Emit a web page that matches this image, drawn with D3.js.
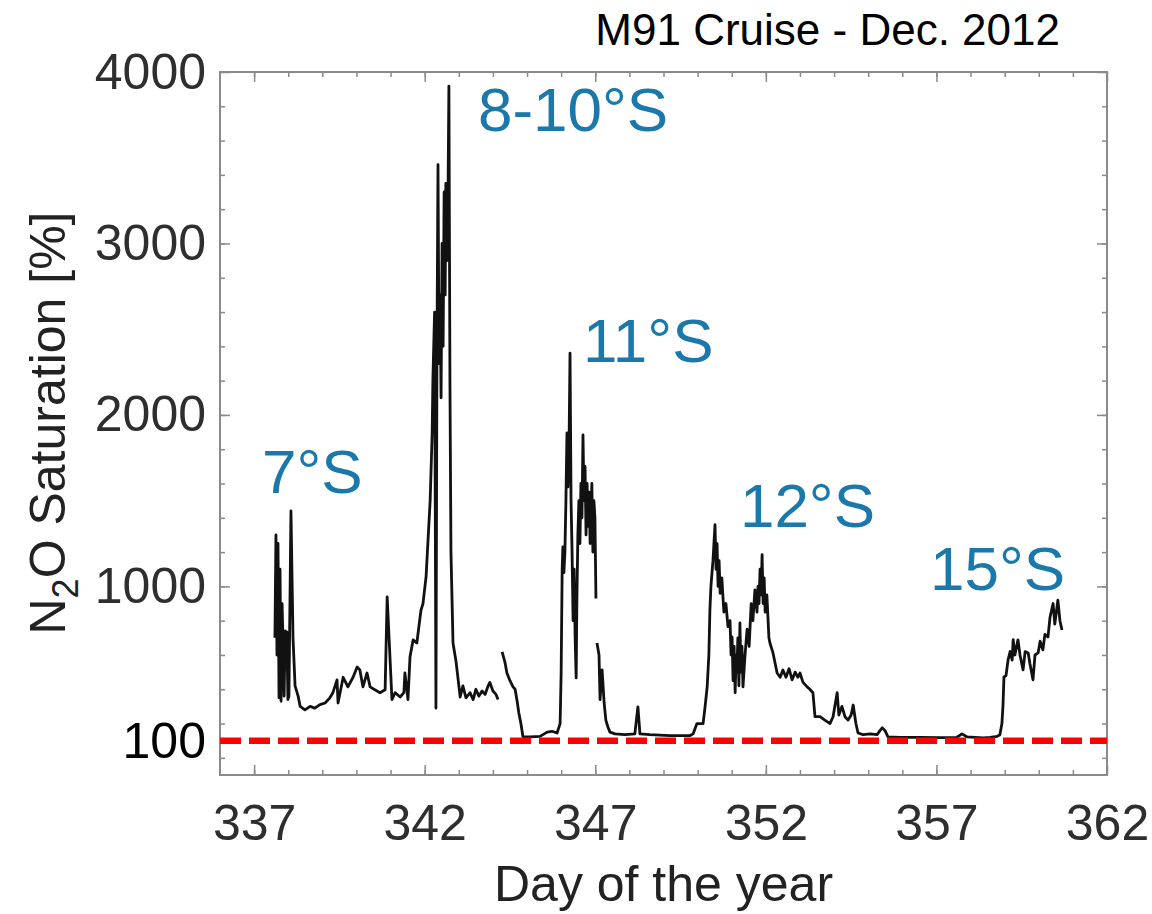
<!DOCTYPE html>
<html>
<head>
<meta charset="utf-8">
<script src="https://cdn.jsdelivr.net/npm/d3@7"></script>
<style>
  body { margin: 0; background: #fff; }
  text { font-family: 'Liberation Sans', Arial, Helvetica, sans-serif; }
</style>
</head>
<body>
<svg width="1152" height="914"></svg>
<script>
// N2O saturation along the M91 cruise (null = gap in record)
var days = [
	337.61, 337.64, 337.67, 337.70, 337.73, 337.76, 337.79, 337.82, 337.88, 337.91, 337.93, 337.96, 337.99, 338.02,
	338.08, 338.14, 338.20, 338.29, 338.35, 338.49, 338.64, 338.78, 338.93, 339.08, 339.22, 339.31, 339.43, 339.46,
	339.61, 339.75, 339.90, 340.02, 340.10, 340.19, 340.31, 340.40, 340.54, 340.69, 340.84, 340.90, 341.04, 341.13,
	341.28, 341.39, 341.42, 341.51, 341.57, 341.66, 341.77, 341.83, 341.89, 341.95, 342.04, 342.16, 342.22, 342.24,
	342.29, 342.33, 342.36, 342.39, 342.42, 342.45, 342.48, 342.51, 342.54, 342.57, 342.60, 342.62, 342.65, 342.68,
	342.71, 342.74, 342.77, 342.83, 342.92, 343.04, 343.12, 343.21, 343.33, 343.42, 343.50, 343.59, 343.68, 343.77,
	343.86, 343.91, 344.00, 344.09, 344.15, 344.21,
	344.27, 344.35, 344.41, 344.50, 344.59, 344.65, 344.71, 344.76, 344.82, 344.88, 345.09, 345.38, 345.59, 345.73,
	345.88, 345.97, 346.00, 346.03, 346.05, 346.08, 346.11, 346.14, 346.17, 346.20, 346.23, 346.26, 346.29, 346.32,
	346.35, 346.38, 346.41, 346.44, 346.46, 346.49, 346.52, 346.55, 346.58, 346.61, 346.64, 346.67, 346.70, 346.73,
	346.76, 346.79, 346.82, 346.85, 346.88, 346.90, 346.93, 346.96, 346.99, 347.02, 347.03,
	347.05, 347.11, 347.14, 347.20, 347.26, 347.31, 347.37, 347.43, 347.58, 347.87, 348.16, 348.25, 348.31, 348.60,
	349.19, 349.78, 349.87, 349.98, 350.16, 350.22, 350.28, 350.33, 350.36, 350.39, 350.45, 350.51, 350.54, 350.57,
	350.60, 350.63, 350.66, 350.71, 350.77, 350.83, 350.89, 350.95, 350.98, 351.01, 351.04, 351.07, 351.10, 351.13,
	351.15, 351.18, 351.21, 351.24, 351.27, 351.30, 351.33, 351.39, 351.45, 351.51, 351.57, 351.62, 351.68, 351.74,
	351.77, 351.80, 351.83, 351.86, 351.89, 351.92, 351.95, 351.98, 352.03, 352.09, 352.12, 352.21, 352.33, 352.42,
	352.50, 352.59, 352.68, 352.77, 352.86, 352.94, 353.00, 353.09, 353.21, 353.29, 353.38, 353.44, 353.59, 353.73,
	353.88, 353.97, 354.09, 354.14, 354.23, 354.32, 354.41, 354.50, 354.56, 354.64, 354.70, 354.85, 355.06, 355.26,
	355.35, 355.41, 355.49, 355.58, 355.93, 356.52, 357.11, 357.60, 357.75, 357.90, 358.37, 358.57, 358.78, 358.86,
	358.92, 358.95, 358.98, 359.04, 359.10, 359.16, 359.22, 359.25, 359.30, 359.39, 359.45, 359.54, 359.60, 359.69,
	359.74, 359.83, 359.89, 359.98, 360.04, 360.12, 360.18, 360.27, 360.33, 360.42, 360.47, 360.56, 360.62, 360.68
];
var saturation = [
	700, 1300, 600, 1250, 350, 1100, 330, 900, 360, 740, 620, 735, 340, 360,
	1440, 700, 420, 360, 300, 280, 300, 290, 310, 320, 350, 380, 455, 320,
	470, 414, 470, 530, 513, 414, 495, 414, 397, 380, 397, 939, 340, 380,
	355, 380, 495, 340, 590, 688, 670, 765, 860, 900, 1055, 1500, 1900, 2200,
	2600, 290, 2400, 3460, 2300, 2700, 2100, 3000, 2400, 3300, 2700, 3350, 2900, 3200,
	3918, 2200, 1200, 670, 560, 355, 420, 350, 380, 340, 400, 360, 390, 370,
	420, 440, 390, 370, 340, null,
	618, 560, 495, 450, 414, 400, 330, 262, 200, 123, 122, 125, 150, 155,
	145, 200, 500, 1100, 1230, 1080, 1200, 1500, 1895, 1580, 1800, 2361, 1500, 1200,
	800, 1100, 700, 466, 900, 1300, 1500, 1250, 1600, 1400, 1883, 1500, 1700, 1300,
	1600, 1350, 1550, 1250, 1450, 1600, 1200, 1500, 1400, 930, null,
	670, 600, 340, 513, 320, 220, 180, 150, 140, 135, 140, 297, 140, 135,
	130, 130, 140, 200, 200, 300, 414, 600, 860, 1000, 1150, 1360, 1100, 1250,
	1000, 1150, 960, 1050, 850, 900, 765, 800, 600, 705, 450, 650, 380, 600,
	500, 700, 420, 787, 500, 650, 414, 600, 750, 650, 900, 800, 980, 850,
	1000, 900, 1100, 950, 1185, 900, 1050, 850, 950, 700, 670, 612, 495, 470,
	512, 470, 520, 455, 500, 470, 495, 440, 414, 400, 380, 240, 240, 220,
	200, 240, 380, 250, 300, 240, 220, 250, 308, 200, 146, 135, 140, 135,
	160, 175, 160, 122, 120, 120, 118, 120, 140, 122, 117, 120, 125, 135,
	200, 300, 472, 480, 571, 620, 570, 690, 600, 688, 600, 513, 620, 612,
	550, 455, 600, 612, 680, 630, 720, 705, 820, 900, 780, 920, 800, 746
];

var yLabels = [1000, 2000, 3000, 4000];
var xLabels = [337, 342, 347, 352, 357, 362];
var refLevel = 100;

var regions = ['7°S', '8-10°S', '11°S', '12°S', '15°S'];
var regionDay = [337.23, 343.56, 346.64, 351.24, 356.81];
var regionSat = [1545, 3655, 2308, 1346, 979];

function main() {
	var svg = d3.select('svg');
	var left = 220, right = 1107, top = 72, bottom = 775;
	var font = "'Liberation Sans', Arial, Helvetica, sans-serif";
	var axisGrey = '#8a8a8a';

	var x = d3.scaleLinear().domain([336, 362]).range([left, right]);
	var y = d3.scaleLinear().domain([-100, 4000]).range([bottom, top]);

	svg.append('rect').attr('width', 1152).attr('height', 914).attr('fill', '#fff');

	// ticks point inward on all four sides
	function ticks(axis, transform) {
		var g = svg.append('g').attr('transform', transform).call(axis);
		g.select('.domain').remove();
		g.selectAll('line').attr('stroke', axisGrey).attr('stroke-width', 1.5);
		return g;
	}
	var xMinor = d3.range(337, 362, 1), yMinor = d3.range(0, 4000, 200);
	ticks(d3.axisBottom(x).tickValues(xMinor).tickSize(-5).tickFormat(''), 'translate(0,' + bottom + ')');
	ticks(d3.axisTop(x).tickValues(xMinor).tickSize(-5).tickFormat(''), 'translate(0,' + top + ')');
	ticks(d3.axisLeft(y).tickValues(yMinor).tickSize(-5).tickFormat(''), 'translate(' + left + ',0)');
	ticks(d3.axisRight(y).tickValues(yMinor).tickSize(-5).tickFormat(''), 'translate(' + right + ',0)');
	ticks(d3.axisTop(x).tickValues(xLabels).tickSize(-10).tickFormat(''), 'translate(0,' + top + ')');
	ticks(d3.axisRight(y).tickValues(yLabels).tickSize(-10).tickFormat(''), 'translate(' + right + ',0)');

	ticks(d3.axisBottom(x).tickValues(xLabels).tickSize(-10).tickPadding(29).tickFormat(d3.format('d')),
		'translate(0,' + bottom + ')');
	ticks(d3.axisLeft(y).tickValues(yLabels).tickSize(-10).tickPadding(14).tickFormat(d3.format('d')),
		'translate(' + left + ',0)');
	svg.selectAll('.tick text')
		.attr('font-family', font)
		.attr('font-size', 50)
		.attr('fill', '#2e2e2e');

	svg.append('rect')
		.attr('x', left).attr('y', top)
		.attr('width', right - left).attr('height', bottom - top)
		.attr('fill', 'none')
		.attr('stroke', axisGrey)
		.attr('stroke-width', 2);

	var line = d3.line()
		.defined(function(d, i) { return saturation[i] != null; })
		.x(function(d, i) { return x(days[i]); })
		.y(function(d, i) { return y(saturation[i]); });

	svg.append('path')
		.attr('d', line(days))
		.attr('fill', 'none')
		.attr('stroke', '#111')
		.attr('stroke-width', 2.8)
		.attr('stroke-linejoin', 'round');

	// 100 % saturation reference
	svg.append('line')
		.attr('x1', left).attr('x2', right)
		.attr('y1', y(refLevel)).attr('y2', y(refLevel))
		.attr('stroke', '#ff0000')
		.attr('stroke-width', 6.5)
		.attr('stroke-dasharray', '21,8');
	svg.append('text')
		.attr('x', left - 14).attr('y', y(refLevel)).attr('dy', '0.35em')
		.attr('text-anchor', 'end')
		.attr('font-size', 50)
		.attr('fill', '#000')
		.text(refLevel);

	svg.selectAll('text.region')
		.data(regions)
		.enter().append('text')
		.attr('class', 'region')
		.attr('x', function(d, i) { return x(regionDay[i]); })
		.attr('y', function(d, i) { return y(regionSat[i]); })
		.attr('font-size', 62)
		.attr('fill', '#1a78aa')
		.text(function(d) { return d; });

	svg.append('text')
		.attr('x', (left + right) / 2).attr('y', 901)
		.attr('text-anchor', 'middle')
		.attr('font-size', 50)
		.attr('fill', '#222')
		.text('Day of the year');

	var yl = svg.append('text')
		.attr('transform', 'translate(65,' + 423 + ') rotate(-90)')
		.attr('text-anchor', 'middle')
		.attr('font-size', 50)
		.attr('fill', '#222');
	yl.append('tspan').text('N');
	yl.append('tspan').attr('font-size', 36).attr('dy', 13).text('2');
	yl.append('tspan').attr('dy', -13).text('O Saturation [%]');

	svg.append('text')
		.attr('x', 1060).attr('y', 45)
		.attr('text-anchor', 'end')
		.attr('font-size', 44)
		.attr('fill', '#000')
		.text('M91 Cruise - Dec. 2012');
}
main();
</script>
</body>
</html>
